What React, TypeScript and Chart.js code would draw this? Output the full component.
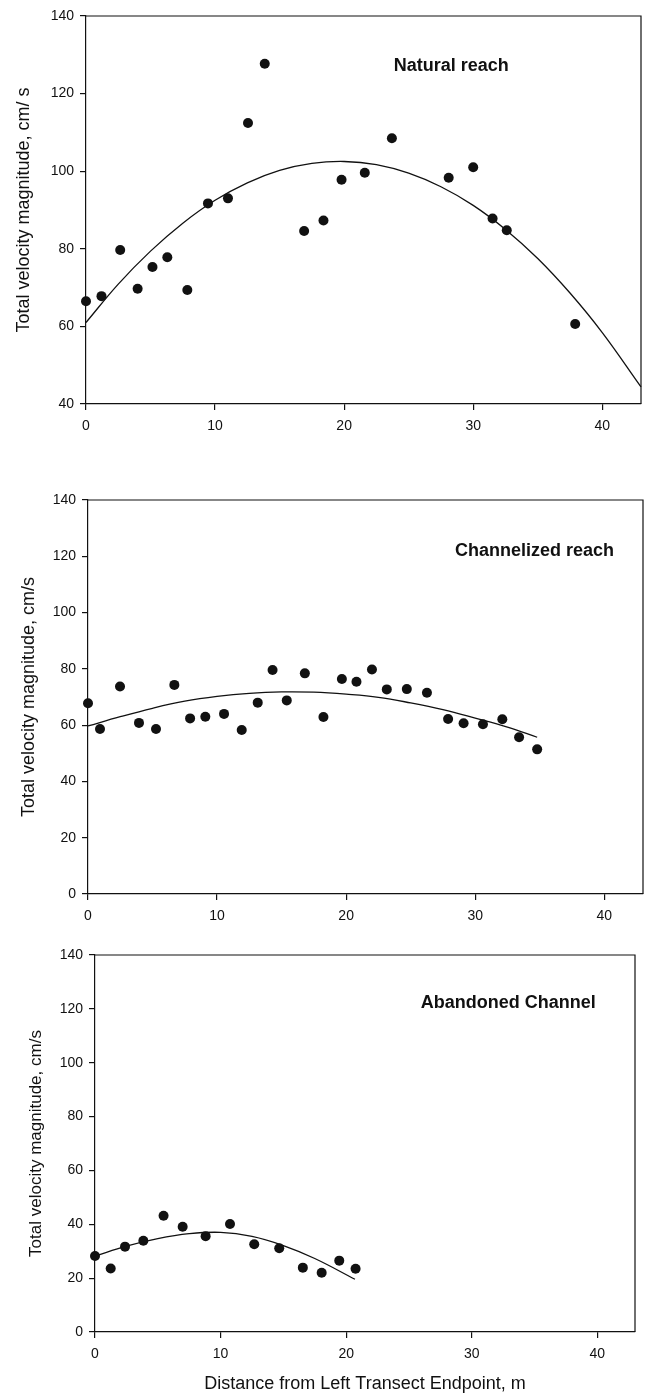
import React, { useEffect, useRef } from "react";
import { Chart, registerables } from "chart.js";

Chart.register(...registerables);

// ---- Data ----
const xTickValues = [0, 10, 20, 30, 40];
const naturalYTicks = [40, 60, 80, 100, 120, 140];
const fullYTicks = [0, 20, 40, 60, 80, 100, 120, 140];

// Natural reach
const naturalX = [0, 1.2, 2.65, 4.0, 5.15, 6.3, 7.85, 9.45, 11.0, 12.55, 13.85, 16.9, 18.4, 19.8, 21.6, 23.7, 28.1, 30.0, 31.5, 32.6, 37.9];
const naturalY = [66.5, 67.8, 79.7, 69.7, 75.3, 77.8, 69.4, 91.7, 93.0, 112.4, 127.7, 84.6, 87.3, 97.8, 99.6, 108.5, 98.3, 101.0, 87.8, 84.8, 60.6];
const naturalFitX = [0, 2.5, 5, 7.5, 10, 12.5, 15, 17.5, 20, 22.5, 25, 27.5, 30, 32.5, 35, 37.5, 40, 43];
const naturalFitY = [61.0, 70.9, 79.4, 86.6, 92.5, 97.0, 100.2, 102.0, 102.5, 101.7, 99.5, 96.0, 91.2, 85.0, 77.5, 68.6, 58.4, 44.4];

// Channelized reach
const channelX = [0, 0.93, 2.48, 3.95, 5.27, 6.69, 7.91, 9.09, 10.54, 11.91, 13.15, 14.3, 15.4, 16.8, 18.24, 19.67, 20.8, 22.0, 23.15, 24.7, 26.26, 27.9, 29.1, 30.6, 32.1, 33.4, 34.8];
const channelY = [67.8, 58.6, 73.7, 60.8, 58.6, 74.3, 62.4, 63.0, 64.0, 58.3, 68.0, 79.6, 68.8, 78.4, 62.9, 76.4, 75.4, 79.8, 72.7, 72.8, 71.5, 62.2, 60.7, 60.3, 62.1, 55.7, 51.4];
const channelFitX = [0, 2.5, 5, 7.5, 10, 12.5, 15, 17.5, 20, 22.5, 25, 27.5, 30, 32.5, 34.8];
const channelFitY = [59.7, 63.0, 66.0, 68.5, 70.2, 71.3, 71.8, 71.7, 71.0, 69.9, 67.9, 65.5, 62.5, 59.3, 55.7];

// Abandoned channel
const abandonedX = [0, 1.25, 2.39, 3.85, 5.46, 6.98, 8.81, 10.75, 12.68, 14.67, 16.55, 18.05, 19.45, 20.75];
const abandonedY = [28.2, 23.6, 31.7, 33.9, 43.2, 39.1, 35.6, 40.1, 32.6, 31.1, 23.9, 22.0, 26.5, 23.5];
const abandonedFitX = [0, 2.5, 5, 7.5, 10, 12.5, 15, 17.5, 20.7];
const abandonedFitY = [28.2, 31.9, 34.7, 36.5, 37.0, 35.5, 32.1, 27.3, 19.6];

const FONT = "'Liberation Sans', Arial, Helvetica, sans-serif";
const INK = "#111";
const WIDTH = 651;

type PanelSpec = {
  top: number;
  height: number;
  plotLeft: number;
  plotRight: number;
  plotTop: number;
  xAxisHeight: number;
  yMin: number;
  yMax: number;
  yTicks: number[];
  px: number[];
  py: number[];
  fx: number[];
  fy: number[];
  yTitle: string;
  yTitleSize: number;
  yTitlePad: number;
  xTitle?: string;
  label: string;
  labelX: number;
  labelY: number;
};

const panels: PanelSpec[] = [
  {
    top: 0, height: 450, plotLeft: 86, plotRight: 641, plotTop: 16, xAxisHeight: 46,
    yMin: 40, yMax: 140, yTicks: naturalYTicks,
    px: naturalX, py: naturalY, fx: naturalFitX, fy: naturalFitY,
    yTitle: "Total velocity magnitude, cm/ s", yTitleSize: 18, yTitlePad: 13,
    label: "Natural reach", labelX: 28.3, labelY: 127,
  },
  {
    top: 450, height: 480, plotLeft: 88, plotRight: 643, plotTop: 50, xAxisHeight: 36,
    yMin: 0, yMax: 140, yTicks: fullYTicks,
    px: channelX, py: channelY, fx: channelFitX, fy: channelFitY,
    yTitle: "Total velocity magnitude, cm/s", yTitleSize: 18, yTitlePad: 18,
    label: "Channelized reach", labelX: 34.6, labelY: 121.9,
  },
  {
    top: 930, height: 465, plotLeft: 95, plotRight: 635, plotTop: 25, xAxisHeight: 63,
    yMin: 0, yMax: 140, yTicks: fullYTicks,
    px: abandonedX, py: abandonedY, fx: abandonedFitX, fy: abandonedFitY,
    yTitle: "Total velocity magnitude, cm/s", yTitleSize: 17, yTitlePad: 26,
    xTitle: "Distance from Left Transect Endpoint, m",
    label: "Abandoned Channel", labelX: 32.9, labelY: 122.2,
  },
];

const decorPlugin = {
  id: "panelDecor",
  afterDraw(chart: any, _args: any, opts: any) {
    const { ctx, chartArea } = chart;
    ctx.save();
    // top and right frame lines
    ctx.strokeStyle = INK;
    ctx.lineWidth = 1.2;
    ctx.beginPath();
    ctx.moveTo(chartArea.left, chartArea.top);
    ctx.lineTo(chartArea.right, chartArea.top);
    ctx.lineTo(chartArea.right, chartArea.bottom);
    ctx.stroke();
    // panel label
    if (opts && opts.label) {
      const x = chart.scales.x.getPixelForValue(opts.labelX);
      const y = chart.scales.y.getPixelForValue(opts.labelY);
      ctx.fillStyle = INK;
      ctx.font = `bold 18px ${FONT}`;
      ctx.textAlign = "center";
      ctx.textBaseline = "middle";
      ctx.fillText(opts.label, x, y);
    }
    ctx.restore();
  },
};

function makeChart(canvas: HTMLCanvasElement, p: PanelSpec) {
  const points = p.px.map((x, i) => ({ x, y: p.py[i] }));
  const fit = p.fx.map((x, i) => ({ x, y: p.fy[i] }));
  return new Chart(canvas, {
    type: "scatter",
    data: {
      datasets: [
        {
          data: points,
          showLine: false,
          pointRadius: 5,
          pointHoverRadius: 5,
          pointBackgroundColor: INK,
          pointBorderWidth: 0,
          clip: false,
        } as any,
        {
          data: fit,
          showLine: true,
          pointRadius: 0,
          pointHoverRadius: 0,
          borderColor: INK,
          borderWidth: 1.3,
          tension: 0.4,
          fill: false,
          clip: false,
        } as any,
      ],
    },
    options: {
      responsive: false,
      animation: false,
      devicePixelRatio: 1,
      events: [],
      layout: { padding: { top: p.plotTop, right: WIDTH - p.plotRight, left: 0, bottom: 0 } },
      plugins: {
        legend: { display: false },
        tooltip: { enabled: false },
        panelDecor: { label: p.label, labelX: p.labelX, labelY: p.labelY },
      } as any,
      scales: {
        x: {
          type: "linear",
          min: 0,
          max: 43,
          afterBuildTicks: (s: any) => {
            s.ticks = xTickValues.map((v) => ({ value: v }));
          },
          afterFit: (s: any) => {
            s.height = p.xAxisHeight;
          },
          grid: { drawOnChartArea: false, drawTicks: true, tickLength: 6, color: INK, tickColor: INK, lineWidth: 1.2 },
          border: { display: true, color: INK, width: 1.2 },
          ticks: { color: INK, font: { family: FONT, size: 14 }, padding: 8, maxRotation: 0, autoSkip: false },
          title: p.xTitle
            ? { display: true, text: p.xTitle, color: INK, font: { family: FONT, size: 18 }, padding: { top: 0, bottom: 0 } }
            : { display: false },
        },
        y: {
          type: "linear",
          min: p.yMin,
          max: p.yMax,
          afterBuildTicks: (s: any) => {
            s.ticks = p.yTicks.map((v) => ({ value: v }));
          },
          afterFit: (s: any) => {
            s.width = p.plotLeft;
          },
          grid: { drawOnChartArea: false, drawTicks: true, tickLength: 6, color: INK, tickColor: INK, lineWidth: 1.2 },
          border: { display: true, color: INK, width: 1.2 },
          ticks: { color: INK, font: { family: FONT, size: 14 }, padding: 6, autoSkip: false },
          title: {
            display: true,
            text: p.yTitle,
            color: INK,
            font: { family: FONT, size: p.yTitleSize },
            padding: { top: p.yTitlePad, bottom: 0 },
          },
        },
      },
    } as any,
    plugins: [decorPlugin],
  });
}

export default function App() {
  const refs = [useRef<HTMLCanvasElement>(null), useRef<HTMLCanvasElement>(null), useRef<HTMLCanvasElement>(null)];

  useEffect(() => {
    const charts = panels.map((p, i) => makeChart(refs[i].current as HTMLCanvasElement, p));
    return () => charts.forEach((c) => c.destroy());
  }, []);

  return (
    <div style={{ position: "absolute", left: 0, top: 0, width: WIDTH, height: 1395, background: "#fff", overflow: "hidden" }}>
      {panels.map((p, i) => (
        <canvas
          key={i}
          ref={refs[i]}
          width={WIDTH}
          height={p.height}
          style={{ position: "absolute", left: 0, top: p.top, display: "block" }}
        />
      ))}
    </div>
  );
}
